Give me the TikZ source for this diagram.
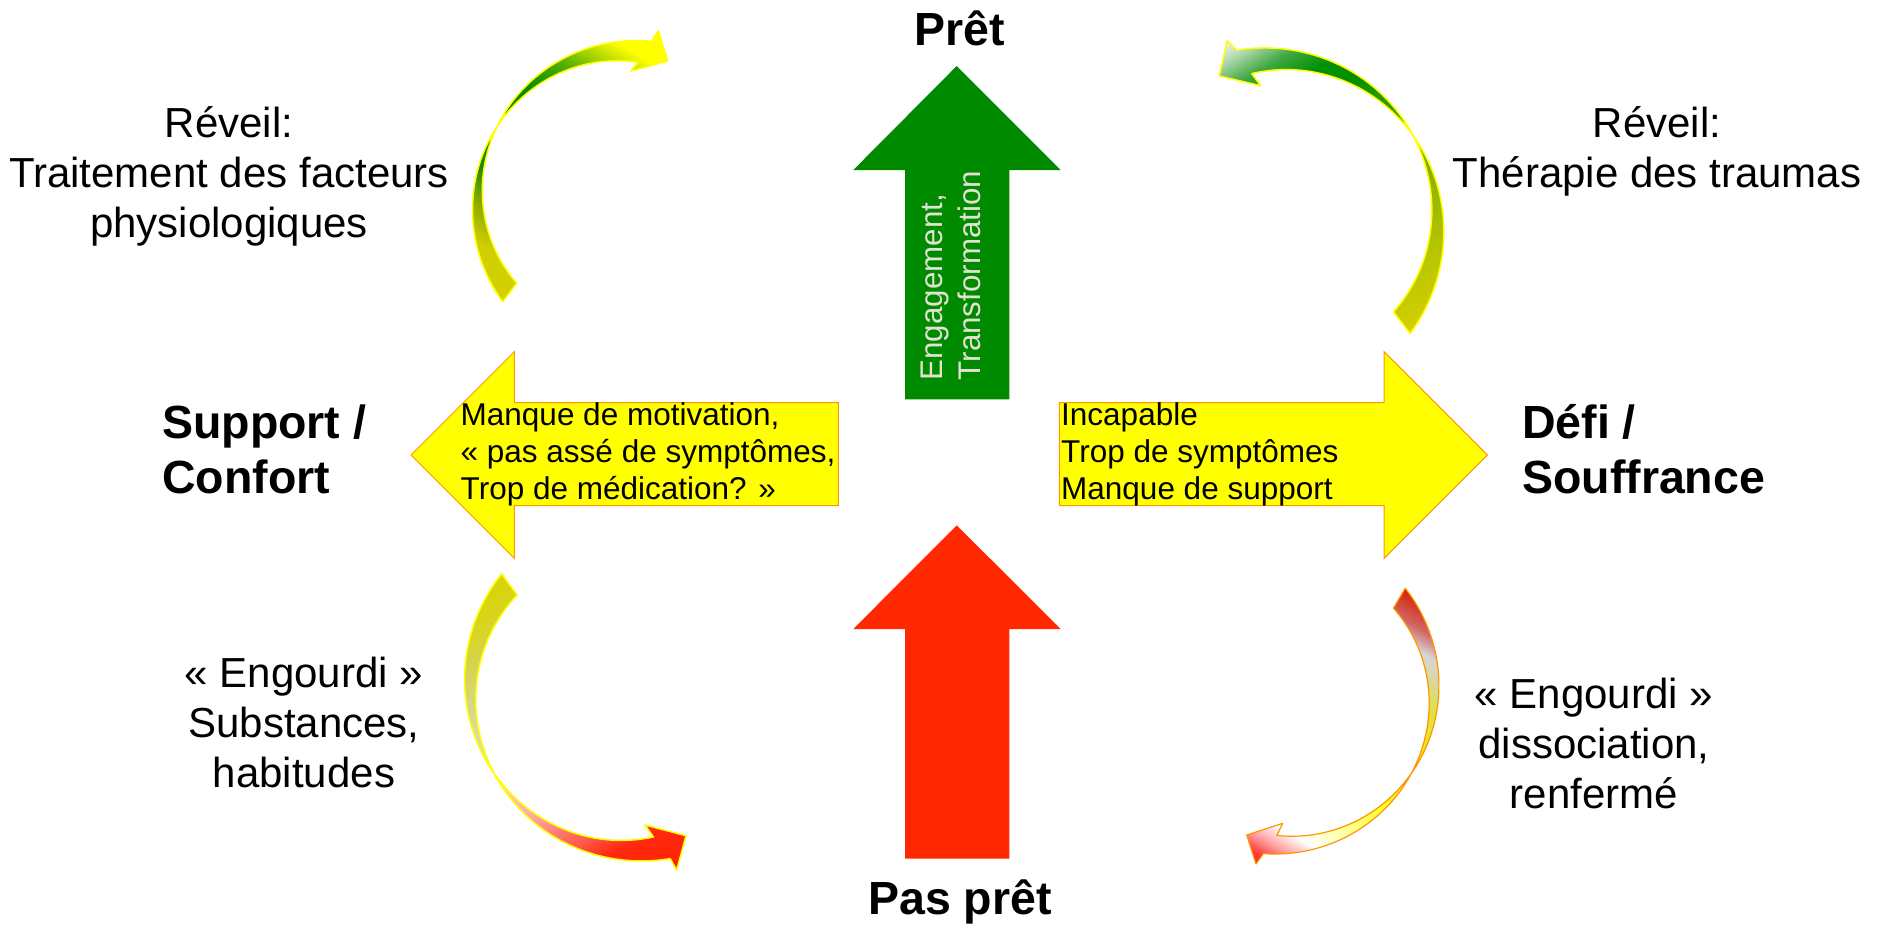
\documentclass[tikz,border=0pt]{standalone}
\usepackage{fontspec}
\setmainfont{Liberation Sans}

% Ribbon-like curved arrows: linear gradients along a tilted axis
\pgfdeclareverticalshading{tlgrad}{100bp}{rgb(0bp)=(0.83,0.816,0); rgb(25bp)=(0.83,0.816,0); rgb(31bp)=(0.816,0.816,0); rgb(37bp)=(0.533,0.659,0); rgb(42bp)=(0.102,0.541,0); rgb(49.5bp)=(0,0.502,0); rgb(57bp)=(0.039,0.549,0); rgb(63bp)=(0.345,0.69,0); rgb(67bp)=(0.722,0.863,0); rgb(70bp)=(1,1,0); rgb(75bp)=(1,1,0); rgb(100bp)=(1,1,0)}
\pgfdeclareverticalshading{trgrad}{100bp}{rgb(0bp)=(0.83,0.816,0); rgb(25bp)=(0.83,0.816,0); rgb(34.5bp)=(0.706,0.769,0); rgb(40.5bp)=(0.596,0.722,0); rgb(50bp)=(0.439,0.659,0); rgb(55bp)=(0.188,0.627,0); rgb(61bp)=(0,0.565,0); rgb(65bp)=(0,0.565,0); rgb(69bp)=(0.251,0.659,0.251); rgb(72.5bp)=(0.69,0.847,0.69); rgb(75bp)=(0.933,0.965,0.933); rgb(100bp)=(0.933,0.965,0.933)}
\pgfdeclareverticalshading{blgrad}{100bp}{rgb(0bp)=(0.847,0.831,0); rgb(25bp)=(0.847,0.831,0); rgb(30bp)=(0.847,0.831,0.125); rgb(34.5bp)=(0.84,0.831,0.314); rgb(40.5bp)=(0.847,0.847,0.565); rgb(46.5bp)=(0.878,0.863,0.722); rgb(51.5bp)=(1,0.816,0.816); rgb(57.5bp)=(1,0.659,0.659); rgb(64.5bp)=(1,0.353,0.29); rgb(68bp)=(1,0.165,0.063); rgb(75bp)=(1,0.133,0); rgb(100bp)=(1,0.133,0)}
\pgfdeclareverticalshading{brgrad}{100bp}{rgb(0bp)=(0.847,0.125,0); rgb(25bp)=(0.847,0.125,0); rgb(29.5bp)=(0.816,0.408,0.408); rgb(32.5bp)=(0.847,0.831,0.831); rgb(35bp)=(0.847,0.847,0.659); rgb(40bp)=(0.878,0.878,0.251); rgb(50bp)=(0.941,0.941,0); rgb(57.5bp)=(1,1,0.188); rgb(65bp)=(1,1,0.753); rgb(68bp)=(1,1,1); rgb(71bp)=(1,0.627,0.627); rgb(73.5bp)=(1,0.22,0.22); rgb(75bp)=(1,0.125,0.125); rgb(100bp)=(1,0.125,0.125)}

\definecolor{upgreen}{RGB}{0,138,0}
\definecolor{upred}{RGB}{255,40,0}
\definecolor{sideyellow}{RGB}{255,255,0}
\definecolor{edgeorange}{RGB}{255,150,0}
\definecolor{pale}{RGB}{226,226,210}

\begin{document}
\begin{tikzpicture}[x=1pt,y=-1pt,
  declare function={rbw(\rbs,\rba,\rbb,\rbp,\rbq)=\rbp+(\rbq-\rbp)*(\rbs-\rba)/(\rbb-\rba);},
  lbl/.style={font=\fontsize{42}{50}\selectfont, align=center, inner sep=0pt, anchor=north},
  bigl/.style={font=\fontsize{46.5}{55}\selectfont\bfseries, inner sep=0pt},
  arrtxt/.style={font=\fontsize{31.5}{37}\selectfont, align=left, inner sep=0pt, anchor=north west},
  sidearrow/.style={fill=sideyellow, draw=edgeorange, line width=1pt, line join=miter},
  ribbonedge/.style={line width=1.5pt, line join=round},
]
\fill[white] (0,0) rectangle (1885,924);
\useasboundingbox (0,0) rectangle (1885,924);

% ---- curved ribbon arrows (edges cross half way) ----
\def\tlpath{plot[domain=219.4:85.2, samples=70, variable=\t]
   ({626.7+(149+rbw(\t,218,83,22.4,-22.4)/2)*cos(\t)},{200-(149+rbw(\t,218,83,22.4,-22.4)/2)*sin(\t)})
   -- (630.7,71) -- (667.7,61) -- (658.3,30.7)
   -- plot[domain=81.1:217.1, samples=70, variable=\t]
   ({626.7+(149-rbw(\t,218,83,22.4,-22.4)/2)*cos(\t)},{200-(149-rbw(\t,218,83,22.4,-22.4)/2)*sin(\t)})
   -- cycle}
\def\trpath{plot[domain=-39.9:99.2, samples=70, variable=\t]
   ({1275.6+(161.9+rbw(\t,-38.8,101,26.5,-25.8)/2)*cos(\t)},{221-(161.9+rbw(\t,-38.8,101,26.5,-25.8)/2)*sin(\t)})
   -- (1260.7,85.7) -- (1219.3,76) -- (1227.3,40.7)
   -- plot[domain=102.9:-37.6, samples=70, variable=\t]
   ({1275.6+(161.9-rbw(\t,-38.8,101,26.5,-25.8)/2)*cos(\t)},{221-(161.9-rbw(\t,-38.8,101,26.5,-25.8)/2)*sin(\t)})
   -- cycle}
\def\blpath{plot[domain=138.3:278.5, samples=70, variable=\t]
   ({631.4+(160.9+rbw(\t,139.3,280.7,25.5,-24.4)/2)*cos(\t)},{689.5-(160.9+rbw(\t,139.3,280.7,25.5,-24.4)/2)*sin(\t)})
   -- (645,825) -- (686,835.7) -- (676.7,870)
   -- plot[domain=282.9:140.4, samples=70, variable=\t]
   ({631.4+(160.9-rbw(\t,139.3,280.7,25.5,-24.4)/2)*cos(\t)},{689.5-(160.9-rbw(\t,139.3,280.7,25.5,-24.4)/2)*sin(\t)})
   -- cycle}
\def\brpath{plot[domain=41:-92.6, samples=70, variable=\t]
   ({1283.2+(150.6+rbw(\t,39.5,-94.8,21.8,-19.3)/2)*cos(\t)},{694.3-(150.6+rbw(\t,39.5,-94.8,21.8,-19.3)/2)*sin(\t)})
   -- (1282.7,823.3) -- (1246.7,835) -- (1256,864)
   -- plot[domain=-97.1:38, samples=70, variable=\t]
   ({1283.2+(150.6-rbw(\t,39.5,-94.8,21.8,-19.3)/2)*cos(\t)},{694.3-(150.6-rbw(\t,39.5,-94.8,21.8,-19.3)/2)*sin(\t)})
   -- cycle}

\begin{scope}
  \clip \tlpath;
  \begin{scope}[transform canvas={rotate around={-30:(629.85,194.5)}}]
    \shade[shading=tlgrad] (229.85,38) rectangle (1029.85,351);
  \end{scope}
\end{scope}
\draw[ribbonedge, draw=sideyellow] \tlpath;

\begin{scope}
  \clip \trpath;
  \begin{scope}[transform canvas={rotate around={30:(1271.75,214.3)}}]
    \shade[shading=trgrad] (871.75,41.8) rectangle (1671.75,386.8);
  \end{scope}
\end{scope}
\draw[ribbonedge, draw=sideyellow] \trpath;

\begin{scope}
  \clip \blpath;
  \begin{scope}[transform canvas={rotate around={210:(635,695.7)}}]
    \shade[shading=blgrad] (235,523.7) rectangle (1035,867.7);
  \end{scope}
\end{scope}
\draw[ribbonedge, draw=sideyellow] \blpath;

\begin{scope}
  \clip \brpath;
  \begin{scope}[transform canvas={rotate around={150:(1281.25,697.7)}}]
    \shade[shading=brgrad] (881.25,541.1) rectangle (1681.25,854.3);
  \end{scope}
\end{scope}
\draw[ribbonedge, draw=edgeorange, line width=1.2pt] \brpath;

% ---- block arrows ----
\fill[upgreen] (905,399.3) -- (905,170) -- (853.3,170) -- (956.7,66) -- (1060.7,170) -- (1009.3,170) -- (1009.3,399.3) -- cycle;
\fill[upred] (905,858.7) -- (905,629) -- (853.3,629) -- (956.7,525.3) -- (1060.7,629) -- (1009.3,629) -- (1009.3,858.7) -- cycle;
\draw[sidearrow] (838.3,402.7) -- (514.3,402.7) -- (514.3,351.7) -- (411,455) -- (514.3,558.3) -- (514.3,505.7) -- (838.3,505.7) -- cycle;
\draw[sidearrow] (1059.3,402.7) -- (1384,402.7) -- (1384,351.7) -- (1487.3,455) -- (1384,558.3) -- (1384,505.7) -- (1059.3,505.7) -- cycle;

% ---- texts ----
\node[bigl, anchor=base] (pret) at (960,45) {Prêt};
\node[bigl, anchor=base] (paspret) at (960,914) {Pas prêt};
\node[bigl, align=left, anchor=north west] (support) at (162,399.5) {\strut Support /\\Confort};
\node[bigl, align=left, anchor=north west] (defi) at (1522,399.5) {\strut Défi /\\Souffrance};

\node[lbl] (reveilA) at (229,102) {\strut Réveil:\\Traitement des facteurs\\physiologiques};
\node[lbl] (reveilB) at (1657,102) {\strut Réveil:\\Thérapie des traumas};
\node[lbl] (engA) at (304,652) {\strut « Engourdi »\\Substances,\\habitudes};
\node[lbl] (engB) at (1594,673) {\strut « Engourdi »\\dissociation,\\renfermé};

\node[arrtxt] (manque) at (460.5,399.1) {\strut Manque de motivation,\\« pas assé de symptômes,\\Trop de médication? »};
\node[arrtxt] (incap) at (1061,399.1) {\strut Incapable\\Trop de symptômes\\Manque de support};
\node[arrtxt, font=\fontsize{31.3}{38}\selectfont, text=pale, rotate=90] (engage) at (915.4,380.5) {\strut Engagement,\\Transformation};
\end{tikzpicture}
\end{document}
